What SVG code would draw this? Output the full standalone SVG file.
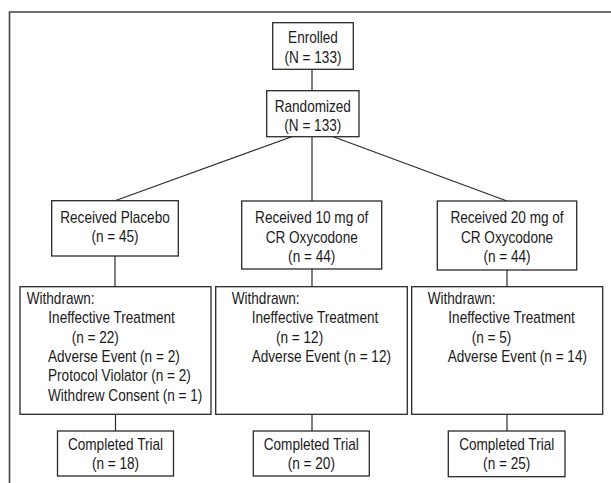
<svg xmlns="http://www.w3.org/2000/svg" width="611" height="483" viewBox="0 0 611 483">
<style>
.box{fill:#fff;stroke:#2a2a2a;stroke-width:1.3}
.ln{fill:none;stroke:#2a2a2a;stroke-width:1.2}
.fr{fill:none;stroke:#444;stroke-width:1.6}
text{font-family:"Liberation Sans",Arial,sans-serif;font-size:16px;fill:#1a1a1a}
.c{text-anchor:middle}
</style>
<rect x="0" y="0" width="611" height="483" fill="#fff"/>
<path class="fr" d="M9.5,483 V12 H611"/>
<g id="connectors">
<line class="ln" x1="312" y1="69.3" x2="312" y2="90.7"/>
<line class="ln" x1="291.7" y1="136.7" x2="115" y2="200.7"/>
<line class="ln" x1="312" y1="136.7" x2="312" y2="201"/>
<line class="ln" x1="333.3" y1="136.7" x2="507" y2="201"/>
<line class="ln" x1="115" y1="256" x2="115" y2="286.7"/>
<line class="ln" x1="312" y1="269" x2="312" y2="286.7"/>
<line class="ln" x1="507" y1="270" x2="507" y2="286.7"/>
<line class="ln" x1="115.5" y1="414.3" x2="115.5" y2="431"/>
<line class="ln" x1="312" y1="414.3" x2="312" y2="431"/>
<line class="ln" x1="507" y1="414.3" x2="507" y2="431"/>
</g>
<g id="enrolled">
<rect class="box" x="272.7" y="22.7" width="80.6" height="46.6"/>
<text class="c" transform="translate(313,43.3) scale(0.85,1)">Enrolled</text>
<text class="c" transform="translate(313,62.5) scale(0.85,1)">(N = 133)</text>
</g>
<g id="randomized">
<rect class="box" x="266.7" y="90.7" width="92.3" height="46"/>
<text class="c" transform="translate(312.8,111.7) scale(0.85,1)">Randomized</text>
<text class="c" transform="translate(312.8,130.5) scale(0.85,1)">(N = 133)</text>
</g>
<g id="placebo">
<rect class="box" x="51.7" y="200.7" width="126.6" height="55.3"/>
<text class="c" transform="translate(115,223.3) scale(0.85,1)">Received Placebo</text>
<text class="c" transform="translate(115,242.3) scale(0.85,1)">(n = 45)</text>
</g>
<g id="oxy10">
<rect class="box" x="241.7" y="201" width="140" height="68"/>
<text class="c" transform="translate(311.7,223.3) scale(0.85,1)">Received 10 mg of</text>
<text class="c" transform="translate(311.7,242.5) scale(0.85,1)">CR Oxycodone</text>
<text class="c" transform="translate(311.7,261.5) scale(0.85,1)">(n = 44)</text>
</g>
<g id="oxy20">
<rect class="box" x="437.3" y="201" width="139.4" height="69"/>
<text class="c" transform="translate(507,223.3) scale(0.85,1)">Received 20 mg of</text>
<text class="c" transform="translate(507,242.5) scale(0.85,1)">CR Oxycodone</text>
<text class="c" transform="translate(507,261.5) scale(0.85,1)">(n = 44)</text>
</g>
<g id="withdrawn-placebo">
<rect class="box" x="20" y="286.7" width="191" height="127.6"/>
<text transform="translate(26.7,304) scale(0.85,1)">Withdrawn:</text>
<text transform="translate(48.3,323.3) scale(0.85,1)">Ineffective Treatment</text>
<text transform="translate(71.7,342.6) scale(0.85,1)">(n = 22)</text>
<text transform="translate(48,361.9) scale(0.85,1)">Adverse Event (n = 2)</text>
<text transform="translate(48,381.2) scale(0.85,1)">Protocol Violator (n = 2)</text>
<text transform="translate(48,400.5) scale(0.85,1)">Withdrew Consent (n = 1)</text>
</g>
<g id="withdrawn-10">
<rect class="box" x="215.7" y="286.7" width="191.6" height="127.6"/>
<text transform="translate(231.7,304) scale(0.85,1)">Withdrawn:</text>
<text transform="translate(251.7,323.3) scale(0.85,1)">Ineffective Treatment</text>
<text transform="translate(276,342.6) scale(0.85,1)">(n = 12)</text>
<text transform="translate(251.7,361.9) scale(0.85,1)">Adverse Event (n = 12)</text>
</g>
<g id="withdrawn-20">
<rect class="box" x="411.7" y="286.7" width="191" height="127.6"/>
<text transform="translate(427.7,304) scale(0.85,1)">Withdrawn:</text>
<text transform="translate(448.3,323.3) scale(0.85,1)">Ineffective Treatment</text>
<text transform="translate(471.7,342.6) scale(0.85,1)">(n = 5)</text>
<text transform="translate(447.7,361.9) scale(0.85,1)">Adverse Event (n = 14)</text>
</g>
<g id="completed-placebo">
<rect class="box" x="57.5" y="431" width="116" height="45"/>
<text class="c" transform="translate(115.5,450) scale(0.85,1)">Completed Trial</text>
<text class="c" transform="translate(115.5,468.5) scale(0.85,1)">(n = 18)</text>
</g>
<g id="completed-10">
<rect class="box" x="253.3" y="431" width="116" height="45"/>
<text class="c" transform="translate(311.3,450) scale(0.85,1)">Completed Trial</text>
<text class="c" transform="translate(311.3,468.5) scale(0.85,1)">(n = 20)</text>
</g>
<g id="completed-20">
<rect class="box" x="448.3" y="431" width="116.7" height="45.7"/>
<text class="c" transform="translate(506.7,450) scale(0.85,1)">Completed Trial</text>
<text class="c" transform="translate(506.7,468.5) scale(0.85,1)">(n = 25)</text>
</g>
</svg>
